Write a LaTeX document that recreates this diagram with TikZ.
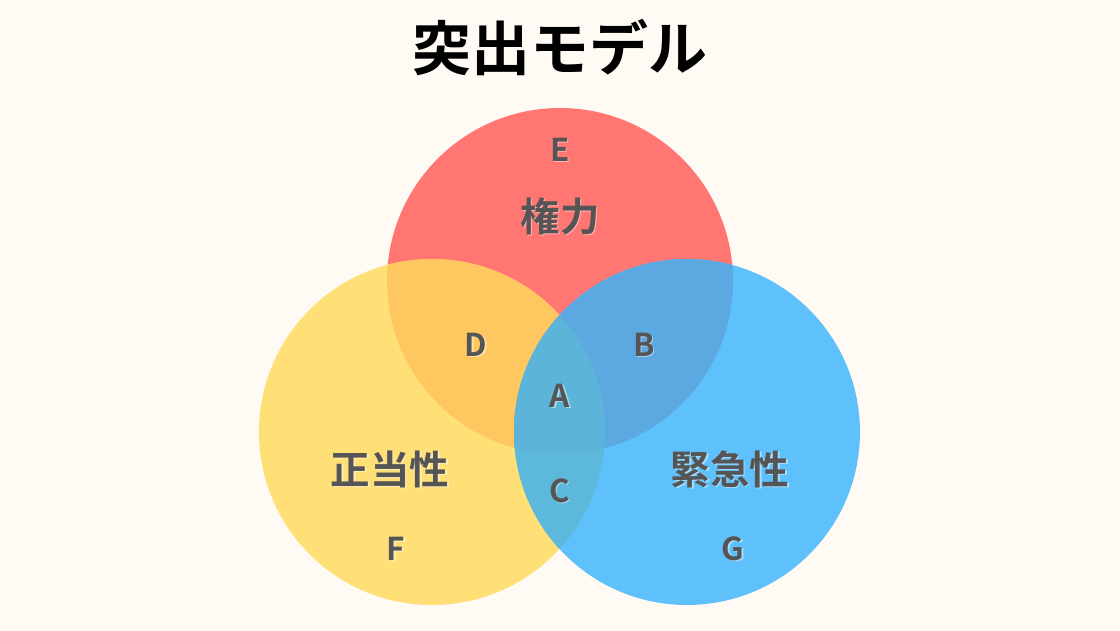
\documentclass[tikz,border=0pt]{standalone}
\usepackage{fontspec}
\setmainfont{Noto Sans CJK JP}[BoldFont={Noto Sans CJK JP Bold}]
\definecolor{bg}{HTML}{FFFAF3}
\definecolor{cred}{HTML}{FF7673}
\definecolor{cyel}{HTML}{FFE077}
\definecolor{cblu}{HTML}{5EC1FB}
\definecolor{cry}{HTML}{FFC75F}
\definecolor{crb}{HTML}{5CA8E0}
\definecolor{cyb}{HTML}{5DB9DC}
\definecolor{cctr}{HTML}{5CB5D9}
\definecolor{txt}{HTML}{555555}
\tikzset{
  lbl/.style={text=txt, font=\bfseries\fontsize{#1}{#1}\selectfont, inner sep=0pt},
  shd/.style={text=white, opacity=0.45, font=\bfseries\fontsize{#1}{#1}\selectfont, inner sep=0pt},
}
\newcommand\mylabel[4]{%
  \node[shd=#3, xshift=1.3pt, yshift=-1.3pt] at (#2) {#4};
  \node[lbl=#3] (#1) at (#2) {#4};}
\begin{document}
\begin{tikzpicture}[x=1pt,y=-1pt]
\fill[bg] (0,0) rectangle (1120,630);
\useasboundingbox (0,0) rectangle (1120,630);
\coordinate (cR) at (560,281);
\coordinate (cY) at (432,432);
\coordinate (cB) at (687,432);
\def\rr{173}
\fill[cred] (cR) circle (\rr);
\fill[cyel] (cY) circle (\rr);
\fill[cblu] (cB) circle (\rr);
\begin{scope}
  \clip (cR) circle (\rr);
  \fill[cry] (cY) circle (\rr);
  \fill[crb] (cB) circle (\rr);
\end{scope}
\begin{scope}
  \clip (cY) circle (\rr);
  \fill[cyb] (cB) circle (\rr);
  \clip (cR) circle (\rr);
  \fill[cctr] (cB) circle (\rr);
\end{scope}
\node[font=\bfseries\fontsize{59}{59}\selectfont, text=black, inner sep=0pt] (title) at (560,48) {突出モデル};
\mylabel{E}{560,150}{31.5}{E}
\mylabel{kenryoku}{560,216}{39.5}{権力}
\mylabel{D}{476,345}{31.5}{D}
\mylabel{B}{644,345}{31.5}{B}
\mylabel{A}{560,396}{31.5}{A}
\mylabel{C}{560,491}{31.5}{C}
\mylabel{seitou}{390,469}{39.5}{正当性}
\mylabel{kinkyu}{730,469}{39.5}{緊急性}
\mylabel{F}{396,549}{31.5}{F}
\mylabel{G}{733,549}{31.5}{G}
\end{tikzpicture}
\end{document}
